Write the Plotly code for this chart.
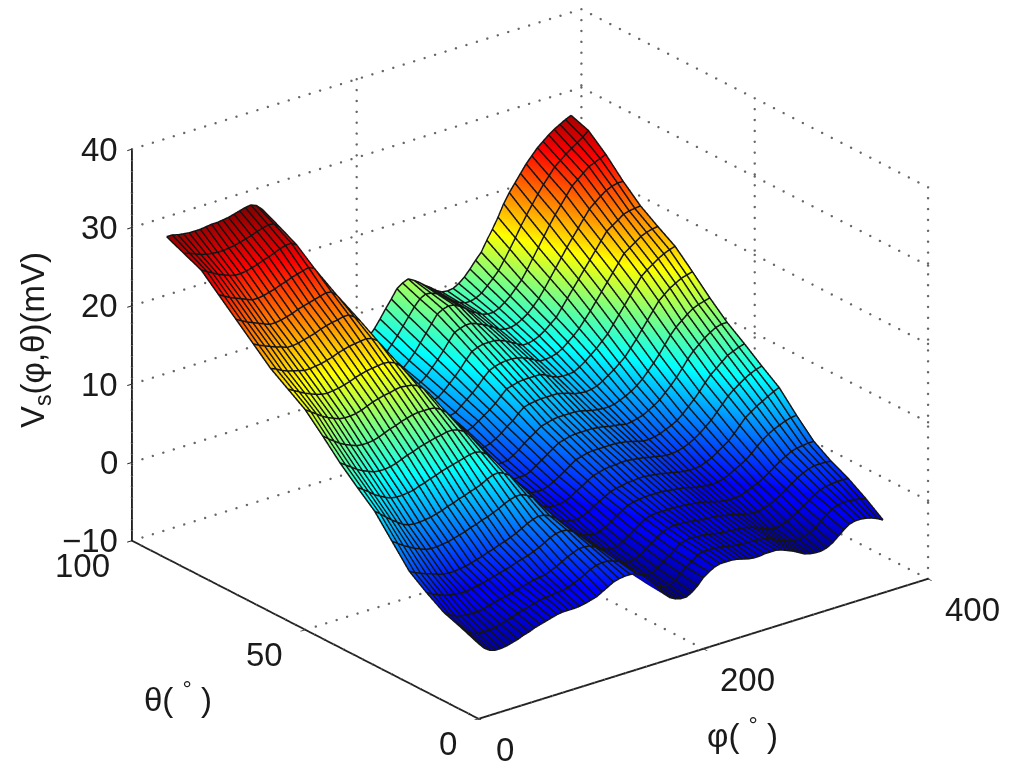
import plotly.graph_objects as go

phi = list(range(0,365,5))
theta = list(range(0,95,5))

v_t0 = [-0.5,-1.3,-1.8,-2.0,-2.0,-1.9,-1.7,-1.5,-1.2,-1.0,-0.7,-0.5,
-0.3,-0.1,0.1,0.2,0.2,0.2,0.25,0.4,0.6,0.8,1.2,1.6,
2.0,2.2,2.3,2.3,2.2,1.8,1.1,0.3,-0.6,-1.5,-2.2,-2.6,
-2.8,-2.8,-2.4,-1.8,-1.0,-0.5,-0.1,0.1,0.1,0.1,0.0,-0.2,
-0.4,-0.5,-0.5,-0.4,-0.4,-0.4,-0.6,-0.9,-1.2,-1.6,-2.0,-2.2,
-2.3,-2.3,-2.1,-1.7,-1.1,-0.5,0.0,0.2,0.2,0.1,-0.1,-0.4,-0.8]
v_t5 = [.4,-.3,-.8,-1,-1,-1,-.9,-.7,-.5,-.3,0,.2,
.4,.6,.8,.9,1,1.1,1.1,1.3,1.6,1.9,2.3,2.7,
3,3.1,3.1,2.9,2.6,2,1.2,.4,-.5,-1.3,-1.9,-2.2,
-2.4,-2.4,-2,-1.4,-.8,-.3,.3,.5,.5,.5,.4,.3,
.1,0,-.1,-.1,-.1,-.2,-.3,-.5,-.9,-1.2,-1.5,-1.7,
-1.7,-1.6,-1.3,-.9,-.3,.3,.8,1.1,1.2,1.2,1.1,1,.8]
v_t10 = [1.2,.7,.3,.1,0,0,0,.1,.3,.5,.7,.8,
1.0,1.2,1.4,1.6,1.8,1.9,2.0,2.3,2.6,3.0,3.4,3.7,
4.0,4.0,3.9,3.5,3.0,2.2,1.2,.4,-.3,-1.0,-1.5,-1.8,
-2.0,-2.0,-1.6,-1.0,-.5,0,.6,.8,.9,.8,.8,.7,
.5,.4,.3,.3,.2,.1,0,-.2,-.5,-.8,-1.1,-1.2,
-1.0,-.8,-.4,0,.5,1.0,1.5,1.9,2.1,2.2,2.3,2.3,2.2]
v_t15 = [2.6,2.2,1.9,1.6,1.4,1.3,1.2,1.2,1.3,1.5,1.6,1.8,
2,2.2,2.4,2.6,2.9,3.1,3.3,3.6,3.9,4.3,4.7,5,
5.1,5,4.6,4,3.3,2.4,1.4,.7,.1,-.5,-1,-1.3,
-1.5,-1.4,-1.1,-.5,0,.5,1,1.2,1.4,1.3,1.3,1.2,
1.1,1,.9,.9,.8,.6,.5,.3,.1,-.1,-.2,-.2,
0,.2,.6,1,1.5,2,2.5,2.9,3.2,3.4,3.4,3.4,3.3]
v_t20 = [4.2,3.8,3.5,3.2,3,2.7,2.5,2.4,2.4,2.5,2.6,2.8,
3,3.2,3.5,3.7,4,4.2,4.5,4.8,5.2,5.6,5.9,6.1,
6,5.7,5.2,4.5,3.5,2.5,1.5,1,.5,0,-.4,-.8,
-1,-.9,-.5,0,.5,1,1.5,1.7,1.8,1.8,1.8,1.8,
1.7,1.7,1.6,1.5,1.4,1.2,1,.8,.7,.6,.6,.7,
1,1.3,1.6,2,2.5,3,3.5,3.9,4.3,4.5,4.6,4.7,4.7]
v_t25 = [6.9,6.4,5.9,5.5,5.1,4.8,4.5,4.4,4.4,4.5,4.6,4.8,
5,5.2,5.5,5.7,6,6.2,6.5,6.8,7.2,7.5,7.7,7.7,
7.4,6.9,6.1,5.2,4.1,3,2,1.4,1,.5,.1,-.1,
-.3,-.1,.2,.7,1.2,1.7,2.1,2.3,2.4,2.5,2.5,2.5,
2.5,2.4,2.3,2.2,2.1,1.9,1.7,1.6,1.5,1.4,1.5,1.7,
2,2.4,2.8,3.2,3.8,4.5,5.1,5.6,6,6.3,6.6,6.8,6.9]
v_t30 = [9.6,9,8.4,7.8,7.3,6.8,6.5,6.4,6.4,6.5,6.6,6.8,
7,7.3,7.5,7.8,8,8.3,8.5,8.8,9.2,9.5,9.6,9.3,
8.8,8,7,6,4.8,3.6,2.5,1.9,1.4,1,.7,.6,
.5,.7,1,1.5,1.9,2.3,2.7,2.9,3,3.2,3.2,3.3,
3.3,3.2,3.1,3,2.8,2.7,2.5,2.4,2.3,2.3,2.4,2.7,
3,3.5,4,4.5,5.2,6,6.8,7.3,7.8,8.2,8.6,9,9.3]
v_t35 = [11.5,11,10.5,9.9,9.5,9.1,8.8,8.7,8.7,8.8,8.9,9.2,
9.4,9.7,9.9,10.2,10.4,10.6,10.8,11,11.2,11.3,11.1,10.6,
9.9,8.9,7.7,6.5,5.3,4.2,3.2,2.6,2.1,1.7,1.4,1.3,
1.3,1.5,1.8,2.3,2.7,3.2,3.6,3.8,4,4.1,4.1,4.2,
4.2,4.1,4,3.9,3.7,3.6,3.4,3.3,3.3,3.4,3.6,3.9,
4.3,4.8,5.4,6,6.8,7.6,8.4,9,9.5,10,10.4,10.7,10.9]
v_t40 = [13.5,13,12.5,12,11.6,11.3,11,10.9,10.9,11,11.2,11.5,
11.8,12,12.3,12.5,12.7,12.9,13,13.2,13.2,13,12.6,11.9,
11,9.8,8.4,7,5.8,4.7,3.8,3.2,2.7,2.3,2.1,2,
2,2.2,2.6,3,3.5,4,4.5,4.7,4.9,5,5,5,
5,5,4.9,4.8,4.6,4.4,4.2,4.2,4.3,4.5,4.8,5.1,
5.5,6.1,6.8,7.5,8.3,9.2,10,10.6,11.2,11.8,12.1,12.4,12.6]
v_t45 = [15.8,15.2,14.7,14.2,13.8,13.5,13.2,13.1,13.1,13.2,13.4,13.7,
14,14.2,14.5,14.7,14.9,15,15,15,14.9,14.5,13.9,13,
11.9,10.6,9.2,7.8,6.5,5.4,4.4,3.8,3.3,2.9,2.7,2.7,
2.7,3,3.5,4,4.5,5,5.5,5.7,5.9,6,6,6,
6,5.9,5.8,5.6,5.5,5.4,5.2,5.3,5.5,5.7,6.1,6.5,
7,7.7,8.4,9.2,10.1,11.1,11.9,12.5,13.1,13.6,14,14.2,14.2]
v_t50 = [18,17.5,17,16.5,16.1,15.8,15.5,15.4,15.4,15.5,15.7,16,
16.3,16.5,16.7,16.8,17,17.1,17,16.9,16.6,16,15.2,14.1,
12.8,11.4,9.9,8.5,7.2,6,5,4.4,3.9,3.5,3.4,3.4,
3.5,3.9,4.4,5,5.5,6,6.5,6.7,6.9,7,7,7,
7,6.9,6.7,6.5,6.4,6.3,6.3,6.4,6.7,7,7.4,7.9,
8.5,9.3,10.1,11,12,13,13.8,14.4,15,15.5,15.8,16,16.2]
v_t55 = [19.5,19.1,18.7,18.3,18,17.7,17.5,17.4,17.5,17.6,17.8,18,
18.3,18.5,18.7,18.8,18.9,19,18.9,18.6,18,17,16,14.7,
13.4,12,10.5,9,7.8,6.6,5.6,5,4.6,4.2,4.2,4.3,
4.5,4.9,5.4,6,6.5,7.2,7.8,8,8.1,8.2,8.2,8.2,
8.2,8,7.8,7.5,7.4,7.3,7.4,7.6,8,8.5,9,9.6,
10.2,11.1,12,13,14,15,16,16.6,17.2,17.6,18,18.2,18.4]
v_t60 = [21,20.7,20.3,20,19.8,19.6,19.4,19.4,19.5,19.6,19.8,20,
20.3,20.5,20.7,20.8,20.9,21,20.8,20.3,19.3,18,16.7,15.4,
14,12.5,11,9.5,8.3,7.2,6.3,5.7,5.3,5,5,5.2,
5.5,6,6.5,7,7.6,8.3,9,9.2,9.4,9.5,9.5,9.5,
9.5,9.2,8.8,8.5,8.4,8.4,8.5,8.9,9.4,10,10.6,11.3,
12,13,14,15,16,17,18,18.6,19.1,19.6,20,20.3,20.5]
v_t65 = [23,22.6,22.3,22,21.7,21.5,21.2,21.2,21.3,21.5,21.7,21.9,
22.2,22.4,22.6,22.7,22.9,22.9,22.4,21.7,20.5,19,17.6,16.2,
14.8,13.2,11.6,10,8.9,7.9,7,6.5,6,5.8,5.8,6,
6.2,6.8,7.4,8,8.7,9.5,10.2,10.5,10.7,10.8,10.8,10.7,
10.5,10.2,9.8,9.4,9.4,9.5,9.7,10.1,10.7,11.3,12,12.9,
13.8,14.8,15.8,16.8,17.8,18.8,19.8,20.3,20.8,21.3,21.6,21.8,21.9]
v_t70 = [25,24.6,24.2,23.9,23.6,23.3,23,23,23.1,23.3,23.5,23.8,
24,24.2,24.4,24.6,24.8,24.7,24,23,21.6,20,18.5,17,
15.5,13.8,12.1,10.5,9.4,8.5,7.8,7.2,6.8,6.5,6.6,6.8,
7,7.6,8.3,9,9.8,10.7,11.5,11.8,12,12,12,11.8,
11.5,11.1,10.7,10.3,10.3,10.5,10.8,11.3,11.9,12.5,13.5,14.5,
15.5,16.5,17.5,18.5,19.5,20.5,21.5,22,22.5,23,23.2,23.3,23.4]
v_t75 = [27,26.6,26.2,25.9,25.6,25.3,25,25,25.1,25.3,25.5,25.8,
26,26.3,26.5,26.7,26.9,26.6,25.5,24.3,22.8,21,19.3,17.7,
16,14.4,12.8,11.3,10.2,9.2,8.4,7.8,7.5,7.2,7.3,7.5,
7.8,8.4,9.2,10,10.9,11.9,12.8,13.1,13.3,13.3,13,12.7,
12.3,11.9,11.4,11.2,11.2,11.4,11.8,12.3,13,13.8,14.8,15.9,
17,18.1,19.2,20.2,21.2,22.2,23.2,23.8,24.4,24.9,25.2,25.4,25.4]
v_t80 = [29,28.6,28.2,27.8,27.5,27.2,27,27,27.1,27.3,27.5,27.8,
28,28.3,28.6,28.8,28.9,28.4,27,25.5,24,22,20.2,18.4,
16.5,15,13.5,12,10.9,9.9,9,8.5,8.2,8,8,8.2,
8.5,9.2,10,11,12,13,14,14.4,14.6,14.5,14.1,13.6,
13,12.6,12.2,12,12,12.3,12.8,13.4,14.2,15,16.1,17.3,
18.5,19.7,20.9,22,23,24,25,25.6,26.2,26.8,27.1,27.4,27.7]
v_t85 = [30,29.8,29.5,29.2,29,28.9,28.8,28.8,28.9,29,29.2,29.4,
29.6,29.9,30.1,30.3,30.2,29.6,28,26.5,24.6,22.8,20.9,19.1,
17.2,15.6,14.1,12.6,11.4,10.4,9.6,9.1,8.8,8.7,8.7,9,
9.3,10.1,11,12,13,14,14.8,15.2,15.1,14.8,14.3,13.8,
13.2,12.8,12.5,12.5,12.7,13.1,13.8,14.5,15.3,16.4,17.6,18.8,
20.1,21.3,22.4,23.5,24.5,25.4,26.3,26.9,27.5,28,28.5,29,29.6]
v_t90 = [31,31,30.8,30.7,30.6,30.6,30.6,30.7,30.8,30.8,30.9,31,
31.2,31.4,31.6,31.7,31.4,30.7,29,27.5,25.2,23.5,21.5,19.8,
18,16.3,14.7,13.2,12,11,10.3,9.8,9.5,9.4,9.5,9.9,
10.2,11,12,13.1,14.1,15.2,15.7,16,15.6,15.1,14.5,14,
13.4,13,12.9,13,13.4,14,14.8,15.7,16.5,17.8,19,20.3,
21.8,23,24,25,26,26.8,27.6,28.2,28.8,29.3,29.7,30.1,30.4]
values = [v_t0,v_t5,v_t10,v_t15,v_t20,v_t25,v_t30,v_t35,v_t40,v_t45,v_t50,v_t55,v_t60,v_t65,v_t70,v_t75,v_t80,v_t85,v_t90]

phi_ticks = [0,200,400]
theta_ticks = [0,50,100]
z_ticks = [-10,0,10,20,30,40]
phi_title = "φ( <sup>°</sup> )"
theta_title = "θ( <sup>°</sup> )"
z_title = "V<sub>s</sub>(φ,θ)(mV)"

jet = [[0,"#00007f"],[0.11,"#0000ff"],[0.125,"#0000ff"],[0.375,"#00ffff"],[0.5,"#7fff7f"],
       [0.625,"#ffff00"],[0.875,"#ff0000"],[1,"#7f0000"]]

xmin,xmax = phi_ticks[0],phi_ticks[-1]
ymin,ymax = theta_ticks[0],theta_ticks[-1]
zmin,zmax = z_ticks[0],z_ticks[-1]
gx,gy,gz = [],[],[]
def seg(a,b,n):
    for i in range(n+1):
        t = i/n
        gx.append(a[0]+(b[0]-a[0])*t); gy.append(a[1]+(b[1]-a[1])*t); gz.append(a[2]+(b[2]-a[2])*t)
for z in z_ticks:
    seg((xmin,ymax,z),(xmax,ymax,z),43)
    seg((xmax,ymin,z),(xmax,ymax,z),36)
for x in phi_ticks:
    seg((x,ymin,zmin),(x,ymax,zmin),36)
    seg((x,ymax,zmin),(x,ymax,zmax),36)
for y in theta_ticks:
    seg((xmin,y,zmin),(xmax,y,zmin),43)
    seg((xmax,y,zmin),(xmax,y,zmax),36)

# mesh lines of the surface, from the same table
LIFT = 0.1
mx,my,mz = [],[],[]
for j,t in enumerate(theta):
    mx += phi+[None]; my += [t]*len(phi)+[None]; mz += [v+LIFT for v in values[j]]+[None]
for i,p in enumerate(phi):
    mx += [p]*len(theta)+[None]; my += theta+[None]; mz += [values[j][i]+LIFT for j in range(len(theta))]+[None]

fig = go.Figure()
fig.add_trace(go.Scatter3d(x=gx,y=gy,z=gz,mode="markers",
    marker=dict(color="#666666",size=1.4,line=dict(width=0)),hoverinfo="skip",showlegend=False))
fig.add_trace(go.Surface(x=phi,y=theta,z=values,colorscale=jet,cmin=-3,cmax=32,showscale=False,
    lighting=dict(ambient=1,diffuse=0,specular=0,roughness=1,fresnel=0),
    contours=dict(x=dict(highlight=False),y=dict(highlight=False),z=dict(highlight=False))))
fig.add_trace(go.Scatter3d(x=mx,y=my,z=mz,mode="lines",line=dict(color="#141414",width=3),
    hoverinfo="skip",showlegend=False))

FONT = dict(family="Liberation Sans",size=33,color="#1a1a1a")
def ax(tv,rng):
    return dict(range=rng,tickvals=tv,ticks="outside",ticklen=6,tickwidth=2,tickcolor="#222222",
                showline=True,linecolor="#222222",linewidth=4,showgrid=False,zeroline=False,
                showbackground=False,showspikes=False,title=dict(text=""),showticklabels=False)

labels = []
for z in z_ticks:
    labels.append(dict(x=xmin,y=ymax,z=z,text=str(z).replace("-","−"),showarrow=False,font=FONT,
                       xanchor="right",yanchor="middle",xshift=-12,yshift=0))
for t in theta_ticks:
    labels.append(dict(x=xmin,y=t,z=zmin,text=str(t),showarrow=False,font=FONT,
                       xanchor="right",yanchor="middle",xshift=-20,yshift=-25))
for p in phi_ticks:
    labels.append(dict(x=p,y=ymin,z=zmin,text=str(p),showarrow=False,font=FONT,
                       xanchor="left",yanchor="middle",xshift=15,yshift=-31))

OFF = 8
def px(v): return (v-OFF)/1024
def py(v): return 1-(v-OFF)/778

E = 1.128
fig.update_layout(
    width=1024,height=778,margin=dict(l=0,r=0,t=0,b=0),paper_bgcolor="white",
    scene=dict(
        domain=dict(x=[0.0195,1],y=[0.0848,1]),
        xaxis=ax(phi_ticks,[xmin,xmax]),yaxis=ax(theta_ticks,[ymin,ymax]),zaxis=ax(z_ticks,[zmin,zmax]),
        aspectmode="manual",aspectratio=dict(x=1.6,y=1.585,z=1.2),
        annotations=labels,
        camera=dict(projection=dict(type="orthographic"),up=dict(x=0,y=0,z=1),center=dict(x=0,y=0,z=0),
                    eye=dict(x=-0.563*E,y=-0.723*E,z=0.40*E))),
    annotations=[
        dict(text=z_title,x=px(35),y=py(340),xref="paper",yref="paper",showarrow=False,textangle=-90,font=FONT,xanchor="center",yanchor="middle"),
        dict(text=theta_title,x=px(178),y=py(697),xref="paper",yref="paper",showarrow=False,font=FONT,xanchor="center",yanchor="middle"),
        dict(text=phi_title,x=px(742),y=py(733),xref="paper",yref="paper",showarrow=False,font=FONT,xanchor="center",yanchor="middle"),
    ])
for r in values: assert len(r)==len(phi)
fig.write_html("out.html")
